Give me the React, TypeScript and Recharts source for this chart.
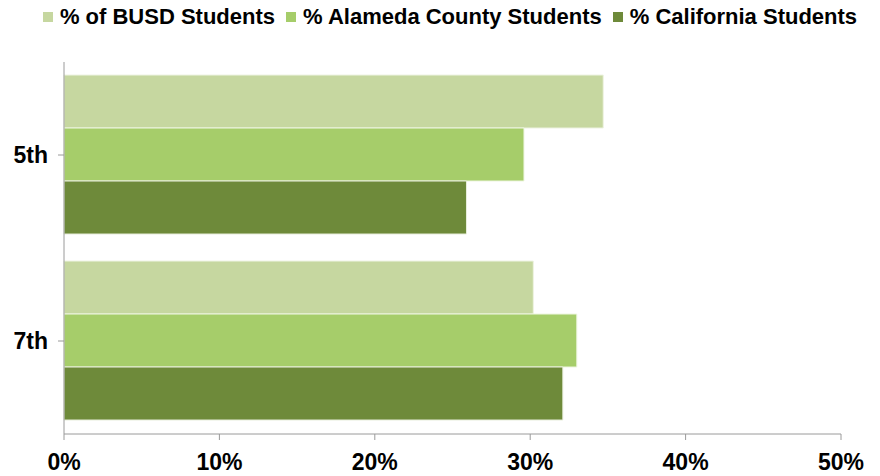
import { Bar, BarChart, Legend, XAxis, YAxis } from "recharts";

const grades = ["5th", "7th"];
const busd = [34.7, 30.2];
const alameda = [29.6, 33.0];
const california = [25.9, 32.1];
const xTicks = [0, 10, 20, 30, 40, 50];

const series = [
  { key: "busd", name: "% of BUSD Students", color: "#c6d7a0", edge: "#eef3e2" },
  { key: "alameda", name: "% Alameda County Students", color: "#a6cd6a", edge: "#eef6e0" },
  { key: "california", name: "% California Students", color: "#6e8a3a", edge: "#e8eedc" },
];

const data = grades.map((grade, i) => ({
  grade,
  busd: busd[i],
  alameda: alameda[i],
  california: california[i],
}));

const font = "'Liberation Sans', Arial, sans-serif";

function LegendRow() {
  return (
    <div
      style={{
        display: "flex",
        justifyContent: "center",
        whiteSpace: "nowrap",
        fontFamily: font,
        paddingLeft: 20,
        lineHeight: "26px",
      }}
    >
      {series.map((s, i) => (
        <span key={s.key} style={{ display: "inline-flex", alignItems: "center", marginLeft: i ? 11 : 0 }}>
          <span style={{ width: 10, height: 10, background: s.color, marginRight: 7, display: "inline-block" }} />
          <span style={{ color: "#000", fontWeight: 700, fontSize: 22 }}>{s.name}</span>
        </span>
      ))}
    </div>
  );
}

export default function App() {
  return (
    <div style={{ position: "absolute", left: 0, top: 0, fontFamily: font }}>
      <BarChart
        width={880}
        height={476}
        data={data}
        layout="vertical"
        barCategoryGap="7%"
        barGap={0}
        margin={{ top: 32, right: 39, bottom: 0, left: 0 }}
      >
        <Legend
          verticalAlign="top"
          align="center"
          height={30}
          wrapperStyle={{ top: 4, left: 0, width: 880 }}
          content={() => <LegendRow />}
        />
        <XAxis
          type="number"
          domain={[0, 50]}
          ticks={xTicks}
          tickFormatter={(v) => `${v}%`}
          height={42}
          stroke="#9a9a9a"
          tickSize={6}
          tickMargin={14}
          tick={{ fill: "#000", fontSize: 23, fontWeight: 700, fontFamily: font }}
        />
        <YAxis
          type="category"
          dataKey="grade"
          width={64}
          stroke="#9a9a9a"
          tickSize={6}
          tickMargin={10}
          tick={{ fill: "#000", fontSize: 23, fontWeight: 700, fontFamily: font }}
        />
        {series.map((s) => (
          <Bar
            key={s.key}
            dataKey={s.key}
            name={s.name}
            fill={s.color}
            stroke={s.edge}
            strokeWidth={1}
            isAnimationActive={false}
          />
        ))}
      </BarChart>
    </div>
  );
}
